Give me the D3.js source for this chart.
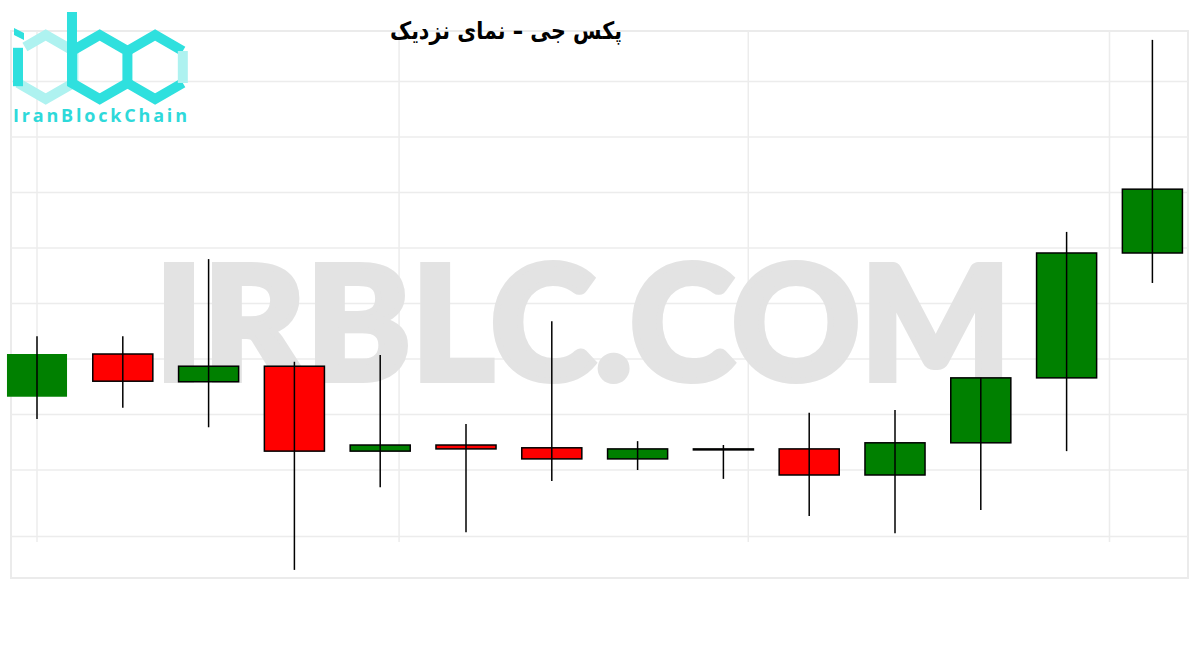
<!DOCTYPE html>
<meta charset="utf-8">

<script src="https://d3js.org/d3.v7.min.js"></script>

<style type="text/css">

body {
    margin: 0;
    background: #fff;
}

.grid line {
    stroke: #ececec;
    stroke-width: 1.5px;
}

.wick {
    stroke: #000;
    stroke-width: 1.5px;
}

.body {
    stroke: #000;
    stroke-width: 1.5px;
}

.watermark {
    font-family: Lato, Inter, sans-serif;
    font-weight: 900;
    fill: #e3e3e3;
    stroke: #e3e3e3;
    stroke-width: 6px;
    stroke-linejoin: miter;
}

.title {
    font-family: "DejaVu Sans", sans-serif;
    font-weight: bold;
    font-size: 24px;
    fill: #000;
}

.logoText {
    font-family: "Open Sans", sans-serif;
    font-weight: 700;
    font-size: 18px;
    fill: #2ed9da;
}

.logo path.run {
    fill: none;
    stroke-width: 10px;
    stroke-linejoin: miter;
    stroke-linecap: butt;
}

</style>

<body>
</body>

<script>

// PAXG candles (open, high, low, close)
var candleIdx = [0, 1, 2, 3, 4, 5, 6, 7, 8, 9, 10, 11, 12, 13];
var opens  = [1843.2, 1850.9, 1845.9, 1848.7, 1833.4, 1834.5, 1834.0, 1832.0, 1833.8, 1833.8, 1829.1, 1834.9, 1846.6, 1869.1];
var highs  = [1854.1, 1854.1, 1868.0, 1849.5, 1850.7, 1838.3, 1856.8, 1835.2, 1834.5, 1840.3, 1840.8, 1846.6, 1872.9, 1907.5];
var lows   = [1839.2, 1841.2, 1837.7, 1812.0, 1826.9, 1818.8, 1828.0, 1830.0, 1828.4, 1821.7, 1818.6, 1822.8, 1833.4, 1863.7];
var closes = [1850.9, 1846.0, 1848.7, 1833.4, 1834.5, 1833.8, 1832.0, 1833.8, 1833.8, 1829.1, 1834.9, 1846.6, 1869.1, 1880.6];

// grid lines (no labels in the picture)
var yTicks = [1900, 1890, 1880, 1870, 1860, 1850, 1840, 1830, 1818];
var xTicks = [0, 4.22, 8.29, 12.5];

var titleText = 'پکس جی – نمای نزدیک';

var data = candleIdx.map(function(i) {
    return {i: i, open: opens[i], high: highs[i], low: lows[i], close: closes[i]};
});

var width = 1200,
    height = 650;

var plot = {left: 11, right: 1188, top: 31, bottom: 578};

var svg = d3.select('body').append('svg')
    .attr('width', width)
    .attr('height', height);

var xScale = d3.scaleLinear()
    .domain([0, 13])
    .range([37, 1152.4]);

var yScale = d3.scaleLinear()
    .domain([1810, 1910])
    .range([581, 26]);

//frame
svg.append('rect')
    .attr('x', plot.left)
    .attr('y', plot.top)
    .attr('width', plot.right - plot.left)
    .attr('height', plot.bottom - plot.top)
    .style('fill', 'none')
    .style('stroke', '#ebebeb')
    .style('stroke-width', 2);

var grid = svg.append('g').attr('class', 'grid');

grid.selectAll('.hgrid')
    .data(yTicks)
    .enter()
    .append('line')
    .attr('class', 'hgrid')
    .attr('x1', plot.left)
    .attr('x2', plot.right)
    .attr('y1', function(d) { return yScale(d); })
    .attr('y2', function(d) { return yScale(d); });

grid.selectAll('.vgrid')
    .data(xTicks)
    .enter()
    .append('line')
    .attr('class', 'vgrid')
    .attr('x1', function(d) { return xScale(d); })
    .attr('x2', function(d) { return xScale(d); })
    .attr('y1', plot.top)
    .attr('y2', 542);

//watermark
svg.append('text')
    .attr('class', 'watermark')
    .attr('x', 155)
    .attr('y', 380)
    .attr('textLength', 856)
    .attr('lengthAdjust', 'spacingAndGlyphs')
    .style('font-size', '158px')
    .text('IRBLC.COM');

//title
svg.append('text')
    .attr('class', 'title')
    .attr('x', 506)
    .attr('y', 39)
    .attr('text-anchor', 'middle')
    .attr('direction', 'rtl')
    .attr('textLength', 232)
    .attr('lengthAdjust', 'spacingAndGlyphs')
    .text(titleText);

//candles
var step = xScale(1) - xScale(0);
var bodyW = step * 0.7;

var candle = svg.selectAll('.candle')
    .data(data)
    .enter()
    .append('g')
    .attr('class', 'candle')
    .attr('transform', function(d) { return 'translate(' + xScale(d.i) + ',0)'; });

candle.append('rect')
    .attr('class', 'body')
    .attr('x', -bodyW / 2)
    .attr('width', bodyW)
    .attr('y', function(d) { return yScale(Math.max(d.open, d.close)); })
    .attr('height', function(d) { return Math.max(1, Math.abs(yScale(d.open) - yScale(d.close))); })
    .style('fill', function(d) { return d.close >= d.open ? '#008000' : '#ff0000'; })
    .style('stroke', function(d) { return d.i == 0 ? 'none' : '#000'; });

candle.append('line')
    .attr('class', 'wick')
    .attr('x1', 0)
    .attr('x2', 0)
    .attr('y1', function(d) { return yScale(d.high); })
    .attr('y2', function(d) { return yScale(d.low); });

//logo
var logo = svg.append('g').attr('class', 'logo');
var dark = '#2fe0de',
    light = '#aef2f0';

function hexPoints(cx, cy, r) {
    var pts = [];
    for (var k = 0; k < 6; k++) {
        var a = Math.PI / 180 * (60 * k - 90);
        pts.push([cx + r * Math.cos(a), cy + r * Math.sin(a)]);
    }
    return pts; // top, upper-right, lower-right, bottom, lower-left, upper-left
}

function run(pts, color) {
    logo.append('path')
        .attr('class', 'run')
        .attr('d', d3.line()(pts))
        .style('stroke', color);
}

var hi = hexPoints(45.7, 67, 32),
    hb = hexPoints(99.7, 67, 32),
    hc = hexPoints(155.1, 67, 32);

function along(p, q, t) {
    return [p[0] + (q[0] - p[0]) * t, p[1] + (q[1] - p[1]) * t];
}

// "i"
run([along(hi[5], hi[0], 0.25), hi[0], hi[1], hi[2], hi[3], hi[4]], light);
run([along(hi[5], hi[4], -0.1), along(hi[4], hi[5], -0.1)], dark);
logo.append('path')
    .attr('d', 'M14,28 L24,33 L24,40 L14,35 Z')
    .style('fill', dark);

// "b"
run([[hb[5][0], 12], hb[4], hb[3], hb[2], hb[1], hb[0], hb[5], [hb[5][0], hb[5][1] + 6]], dark);

// "c"
run([hc[1], hc[0], hc[5]], dark);
run([hc[4], hc[3], hc[2]], dark);
run([hc[1], hc[2]], light);

logo.append('text')
    .attr('class', 'logoText')
    .attr('x', 13)
    .attr('y', 122)
    .attr('textLength', 174)
    .attr('lengthAdjust', 'spacing')
    .text('IranBlockChain');

</script>
